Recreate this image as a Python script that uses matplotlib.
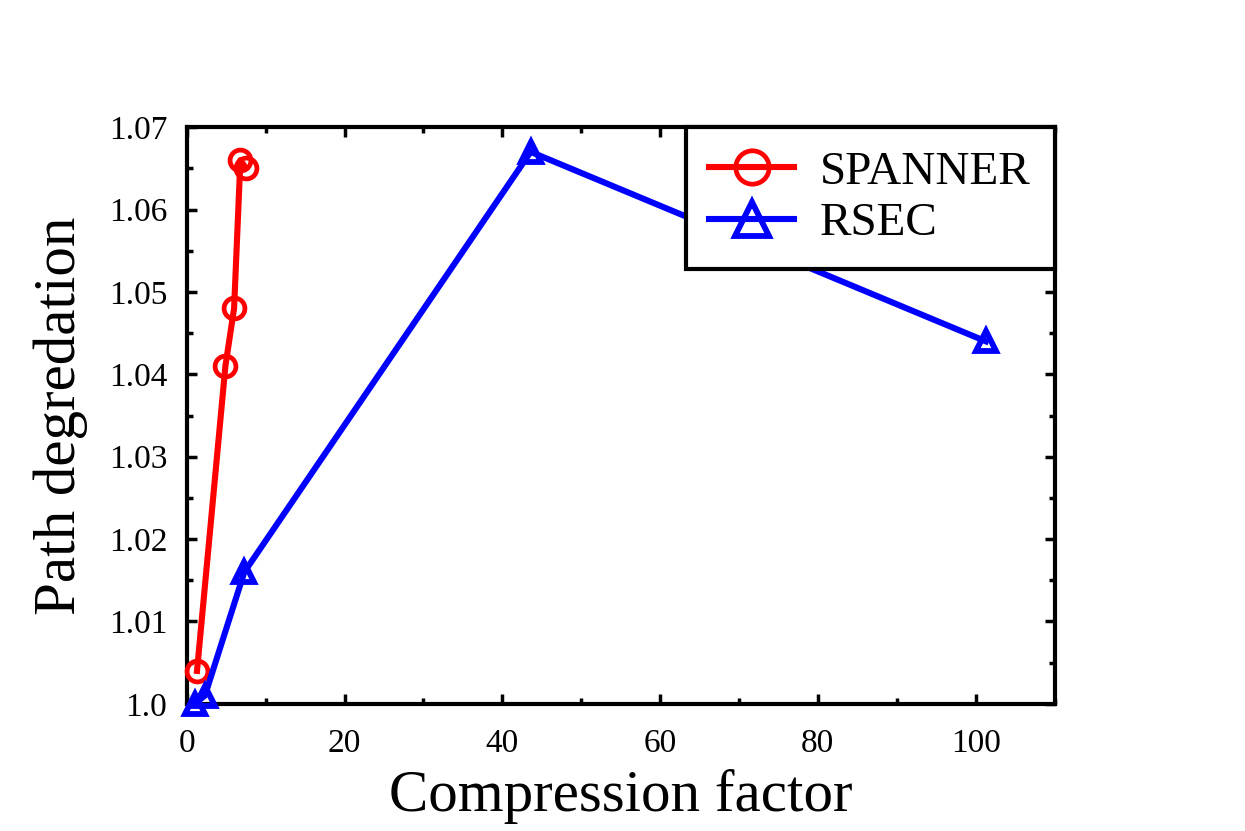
import matplotlib
matplotlib.use("Agg")
import matplotlib.pyplot as plt
from matplotlib.ticker import MultipleLocator

plt.rcParams['font.family'] = ['Liberation Serif', 'DejaVu Serif']

# data
spanner_x = [1.3, 4.9, 6.0, 6.8, 7.5]
spanner_y = [1.004, 1.041, 1.048, 1.066, 1.065]
rsec_x = [1.0, 2.3, 7.3, 43.6, 101.3]
rsec_y = [1.0, 1.001, 1.016, 1.067, 1.044]

x_ticks = [0, 20, 40, 60, 80, 100]
y_ticks = [1.0, 1.01, 1.02, 1.03, 1.04, 1.05, 1.06, 1.07]
y_tick_labels = ['1.0', '1.01', '1.02', '1.03', '1.04', '1.05', '1.06', '1.07']

fig = plt.figure(figsize=(12.45, 8.31), dpi=100)
ax = fig.add_axes([0.150, 0.153, 0.697, 0.694])

ax.plot(spanner_x, spanner_y, color='red', lw=4.4, marker='o', ms=15,
        mfc='none', mew=3.4, label='SPANNER', clip_on=False, zorder=3)
ax.plot(rsec_x, rsec_y, color='blue', lw=4.4, marker='^', ms=15,
        mfc='none', mew=4.2, label='RSEC', clip_on=False, zorder=3)

ax.set_xlim(0, 110)
ax.set_ylim(1.0, 1.07)
ax.set_xticks(x_ticks)
ax.set_yticks(y_ticks)
ax.set_yticklabels(y_tick_labels)
ax.xaxis.set_minor_locator(MultipleLocator(10))
ax.yaxis.set_minor_locator(MultipleLocator(0.005))

ax.tick_params(which='both', direction='in', top=True, right=True, width=2.5)
ax.tick_params(which='major', length=7, labelsize=24)
ax.tick_params(axis='y', which='major', pad=14)
ax.tick_params(axis='x', which='major', pad=18)
ax.tick_params(which='minor', length=4)
for s in ax.spines.values():
    s.set_linewidth(3)

ax.set_xlabel('Compression factor', fontsize=42.5, labelpad=7)
ax.set_ylabel('Path degredation', fontsize=42.5, labelpad=15)

leg = ax.legend(loc='upper right', fontsize=34, borderaxespad=0, fancybox=False,
                edgecolor='black', framealpha=1, handlelength=1.8,
                markerscale=1.6, borderpad=0.5, labelspacing=0.18,
                handletextpad=0.55)
leg.get_frame().set_linewidth(3)

fig.savefig('out.png', dpi=100)
